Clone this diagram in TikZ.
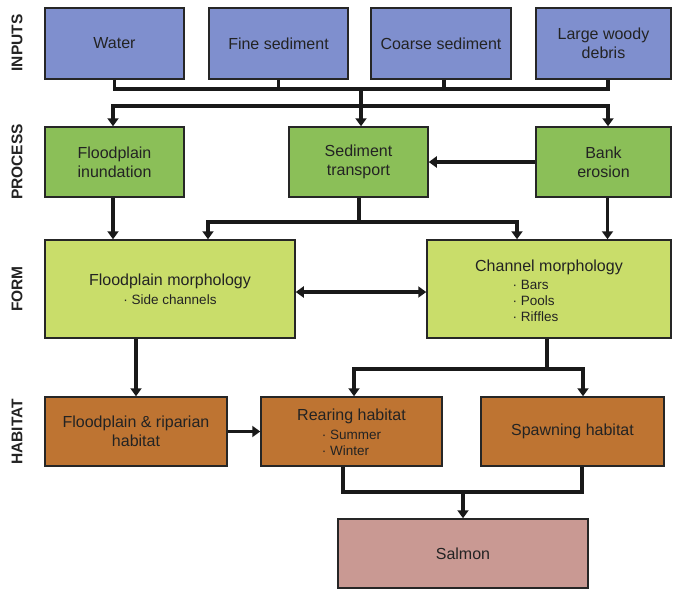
\documentclass[tikz,border=0pt]{standalone}
\usepackage{fontspec}
\setmainfont{Liberation Sans}
\usetikzlibrary{arrows.meta}
\definecolor{inblue}{RGB}{127,143,206}
\definecolor{procgreen}{RGB}{139,191,88}
\definecolor{formgreen}{RGB}{201,221,106}
\definecolor{habbrown}{RGB}{190,116,50}
\definecolor{salpink}{RGB}{201,153,147}
\definecolor{txt}{RGB}{35,35,35}
\tikzset{
  box/.style={draw=black!85, line width=1.5pt, rectangle, align=center, text=txt,
    font=\fontsize{16}{19}\selectfont, inner sep=2pt},
  conn/.style={line width=3.5pt, draw=black!90},
  arr/.style={conn, -{Triangle[width=11pt,length=8pt]}},
  darr/.style={conn, {Triangle[width=11pt,length=8pt]}-{Triangle[width=11pt,length=8pt]}},
  rowlab/.style={rotate=90, font=\fontsize{15.5}{18}\bfseries, text=txt}
}
\newcommand{\bul}{\textperiodcentered\ }
\newcommand{\subfont}{\fontsize{13.5}{16}\selectfont}
\begin{document}
\begin{tikzpicture}[x=1pt,y=-1pt]
\useasboundingbox (0,0) rectangle (673,590);
% row labels
\node[rowlab] (lin) at (17,43) {INPUTS};
\node[rowlab] (lpr) at (17,162) {PROCESS};
\node[rowlab] (lfo) at (17,289) {FORM};
\node[rowlab] (lha) at (17,432) {HABITAT};
% inputs
\node[box, fill=inblue, minimum width=139pt, minimum height=71pt] (water) at (114.5,43.5) {Water};
\node[box, fill=inblue, minimum width=139pt, minimum height=71pt] (fine) at (278.5,43.5) {Fine sediment};
\node[box, fill=inblue, minimum width=140pt, minimum height=71pt] (coarse) at (441,43.5) {Coarse sediment};
\node[box, fill=inblue, minimum width=135pt, minimum height=71pt] (lwd) at (603.5,43.5) {Large woody\\debris};
% process
\node[box, fill=procgreen, minimum width=139pt, minimum height=70pt] (flinund) at (114.5,162) {Floodplain\\inundation};
\node[box, fill=procgreen, minimum width=139pt, minimum height=70pt] (sedtr) at (358.5,162) {Sediment\\transport};
\node[box, fill=procgreen, minimum width=135pt, minimum height=70pt] (bank) at (603.5,162) {Bank\\erosion};
% form
\node[box, fill=formgreen, minimum width=250pt, minimum height=98pt] (flmorph) at (170,289)
  {Floodplain morphology\\[0pt]{\subfont\bul Side channels}};
\node[box, fill=formgreen, minimum width=244pt, minimum height=98pt] (chmorph) at (549,289)
  {\rule{0pt}{20pt}Channel morphology\\[-1pt]\hspace*{-27pt}{\subfont\begin{tabular}[t]{@{}l@{}}\bul Bars\\\bul Pools\\\bul Riffles\end{tabular}}};
% habitat
\node[box, fill=habbrown, minimum width=182pt, minimum height=69pt] (flrip) at (136,431.5) {Floodplain \& riparian\\habitat};
\node[box, fill=habbrown, minimum width=181pt, minimum height=69pt] (rearing) at (351.5,431.5)
  {\rule{0pt}{18pt}Rearing habitat\\[0pt]{\subfont\begin{tabular}[t]{@{}l@{}}\bul Summer\\\bul Winter\end{tabular}}};
\node[box, fill=habbrown, minimum width=183pt, minimum height=69pt] (spawn) at (572.5,431.5) {Spawning habitat};
% salmon
\node[box, fill=salpink, minimum width=250pt, minimum height=69pt] (salmon) at (463,553.5) {Salmon};
% connector coordinates
\coordinate (inbar) at (361,89);
\coordinate (distbar) at (361,106);
\coordinate (sedbar) at (359,222);
\coordinate (chbar) at (547,369);
\coordinate (habbar) at (463,492);
% inputs -> process
\draw[conn] (water.south) |- ([xshift=4.5pt]lwd.south |- inbar) -- ([xshift=4.5pt]lwd.south);
\draw[conn] (fine.south) -- (fine.south |- inbar);
\draw[conn] ([xshift=3pt]coarse.south) -- ([xshift=3pt]coarse.south |- inbar);
\draw[conn] (inbar) -- (distbar);
\draw[arr] (distbar) -| ([xshift=-1.5pt]flinund.north);
\draw[arr] (distbar) -| ([xshift=4.5pt]bank.north);
\draw[arr] (distbar) -- (distbar |- sedtr.north);
\draw[arr] (bank.west) -- (sedtr.east);
% process -> form
\draw[arr] ([xshift=-1.5pt]flinund.south) -- ([xshift=-1.5pt]flinund.south |- flmorph.north);
\draw[conn] (sedbar |- sedtr.south) -- (sedbar);
\draw[arr] (sedbar) -| ([xshift=38pt]flmorph.north);
\draw[arr] (sedbar) -| ([xshift=-32pt]chmorph.north);
\draw[arr] ([xshift=4pt]bank.south) -- ([xshift=4pt]bank.south |- chmorph.north);
\draw[darr] ([yshift=-3pt]flmorph.east) -- ([yshift=-3pt]chmorph.west);
% form -> habitat
\draw[arr] (flmorph.south -| flrip.north) -- (flrip.north);
\draw[conn] (chbar |- chmorph.south) -- (chbar);
\draw[arr] (chbar) -| ([xshift=2.5pt]rearing.north);
\draw[arr] (chbar) -| ([xshift=10.5pt]spawn.north);
\draw[arr] (flrip.east) -- (rearing.west);
% habitat -> salmon
\draw[conn] ([xshift=-8.5pt]rearing.south) |- ([xshift=9.5pt]spawn.south |- habbar) -- ([xshift=9.5pt]spawn.south);
\draw[arr] (habbar) -- (salmon.north);
\end{tikzpicture}
\end{document}
